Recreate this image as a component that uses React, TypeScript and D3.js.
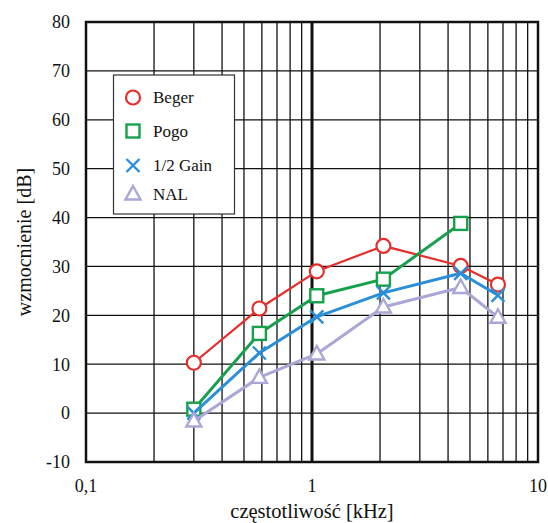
import { useMemo } from 'react';
import { scaleLog, scaleLinear, line } from 'd3';

const freqs = [0.3, 0.585, 1.05, 2.07, 4.55, 6.65];
const beger = [10.3, 21.4, 29.0, 34.2, 30.1, 26.3];
const pogo = [0.8, 16.3, 24.0, 27.4, 38.8];
const halfGain = [0, 12.3, 19.7, 24.6, 28.6, 24.1];
const nal = [-1.6, 7.3, 12.1, 21.7, 25.7, 19.6];

const yTicks = [-10, 0, 10, 20, 30, 40, 50, 60, 70, 80];
const xTickLabels = [
  { v: 0.1, label: '0,1' },
  { v: 1, label: '1' },
  { v: 10, label: '10' },
];
const minorX = [0.2, 0.3, 0.4, 0.5, 0.6, 0.7, 0.8, 0.9, 2, 3, 4, 5, 6, 7, 8, 9];

type Marker = 'circle' | 'square' | 'cross' | 'triangle';
const series: { name: string; values: number[]; color: string; width: number; marker: Marker }[] = [
  { name: 'Beger', values: beger, color: '#e52e2a', width: 2.2, marker: 'circle' },
  { name: 'Pogo', values: pogo, color: '#17a04c', width: 3, marker: 'square' },
  { name: '1/2 Gain', values: halfGain, color: '#2a8fd8', width: 3, marker: 'cross' },
  { name: 'NAL', values: nal, color: '#aaa7d7', width: 3, marker: 'triangle' },
];

const margin = { left: 86, top: 22, right: 10, bottom: 61 };
const W = 548;
const H = 523;

const drawMarker = (m: Marker, x: number, y: number, color: string, key: string) => {
  if (m === 'circle') {
    return <circle key={key} cx={x} cy={y} r={7} fill="white" stroke={color} strokeWidth={2.2} />;
  }
  if (m === 'square') {
    return <rect key={key} x={x - 6.5} y={y - 6.5} width={13} height={13} fill="white" stroke={color} strokeWidth={2.4} />;
  }
  if (m === 'cross') {
    return (
      <path key={key} d={`M${x - 6.5},${y - 6.5}L${x + 6.5},${y + 6.5}M${x - 6.5},${y + 6.5}L${x + 6.5},${y - 6.5}`} stroke={color} strokeWidth={2.4} fill="none" />
    );
  }
  return (
    <path key={key} d={`M${x},${y - 8}L${x + 7.5},${y + 5.5}L${x - 7.5},${y + 5.5}Z`} fill="white" stroke={color} strokeWidth={2.4} strokeLinejoin="miter" />
  );
};

const App = () => {
  const x = useMemo(() => scaleLog().domain([0.1, 10]).range([margin.left, W - margin.right]), []);
  const y = useMemo(() => scaleLinear().domain([-10, 80]).range([H - margin.bottom, margin.top]), []);
  const x0 = x.range()[0];
  const x1 = x.range()[1];
  const y0 = y.range()[0];
  const y1 = y.range()[1];

  const lineGen = line<number>()
    .x((_, i) => x(freqs[i]))
    .y((d) => y(d));

  const font = '"Liberation Serif", "Times New Roman", serif';

  return (
    <svg width={W} height={H} style={{ position: 'absolute', left: 0, top: 0, background: 'white' }}>
      <rect width={W} height={H} fill="white" />
      {/* grid */}
      {yTicks.map((t) => (
        <line key={`h${t}`} x1={x0} x2={x1} y1={y(t)} y2={y(t)} stroke="#111" strokeWidth={1.3} />
      ))}
      {minorX.map((v) => (
        <line key={`v${v}`} x1={x(v)} x2={x(v)} y1={y1} y2={y0} stroke="#111" strokeWidth={1.3} />
      ))}
      <line x1={x(1)} x2={x(1)} y1={y1} y2={y0} stroke="#111" strokeWidth={3} />
      <rect x={x0} y={y1} width={x1 - x0} height={y0 - y1} fill="none" stroke="#111" strokeWidth={2.5} />

      {/* legend */}
      <rect x={113.5} y={75} width={121} height={139} fill="white" stroke="#333" strokeWidth={1.2} />
      {series.map((s, i) => {
        const ly = [97.5, 131, 165.5, 194][i];
        return (
          <g key={s.name}>
            {drawMarker(s.marker, 133, ly, s.color, `lg${i}`)}
            <text x={153} y={ly} dy="0.35em" fontFamily={font} fontSize={17} fill="#111">
              {s.name}
            </text>
          </g>
        );
      })}

      {/* series */}
      {series.map((s) => (
        <g key={s.name}>
          <path d={lineGen(s.values) ?? ''} fill="none" stroke={s.color} strokeWidth={s.width} strokeLinejoin="round" />
          {s.values.map((v, i) => drawMarker(s.marker, x(freqs[i]), y(v), s.color, `${s.name}${i}`))}
        </g>
      ))}

      {/* axes labels */}
      {yTicks.map((t) => (
        <text key={`yl${t}`} x={70} y={y(t)} dy="0.35em" textAnchor="end" fontFamily={font} fontSize={18} fill="#111">
          {t}
        </text>
      ))}
      {xTickLabels.map((t) => (
        <text key={`xl${t.v}`} x={x(t.v)} y={492} textAnchor="middle" fontFamily={font} fontSize={18} fill="#111">
          {t.label}
        </text>
      ))}
      <text x={x(1)} y={518} textAnchor="middle" fontFamily={font} fontSize={20.5} fill="#111">
        częstotliwość [kHz]
      </text>
      <text transform={`translate(31,${(y0 + y1) / 2}) rotate(-90)`} textAnchor="middle" fontFamily={font} fontSize={20} fill="#111">
        wzmocnienie [dB]
      </text>
    </svg>
  );
};

export default App;
